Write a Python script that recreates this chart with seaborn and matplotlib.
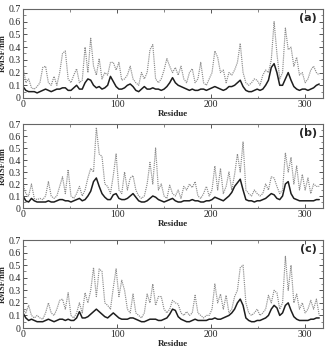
import numpy as np
import pandas as pd
import matplotlib
matplotlib.use("Agg")
import matplotlib.pyplot as plt
import seaborn as sns
from matplotlib.ticker import MultipleLocator

# Sampled every 3 residues, from residue 0
dotted_a = [0.25,0.12,0.15,0.08,0.07,0.09,0.12,0.24,0.25,0.12,0.10,0.17,0.10,0.20,0.35,0.37,0.15,0.12,0.18,0.23,
            0.12,0.14,0.40,0.20,0.47,0.25,0.18,0.31,0.15,0.20,0.18,0.28,0.28,0.22,0.28,0.14,0.15,0.18,0.25,0.15,
            0.12,0.10,0.20,0.15,0.20,0.38,0.42,0.15,0.12,0.15,0.22,0.31,0.25,0.20,0.24,0.18,0.25,0.15,0.12,0.20,
            0.23,0.12,0.15,0.28,0.12,0.10,0.15,0.20,0.37,0.32,0.20,0.22,0.12,0.20,0.18,0.22,0.28,0.43,0.20,0.12,
            0.10,0.12,0.15,0.14,0.10,0.18,0.22,0.20,0.30,0.60,0.35,0.15,0.20,0.55,0.38,0.40,0.25,0.32,0.18,0.20,
            0.12,0.15,0.22,0.25,0.20,0.18]
solid_a = [0.09,0.06,0.05,0.05,0.05,0.04,0.05,0.06,0.07,0.06,0.05,0.06,0.07,0.07,0.08,0.08,0.06,0.06,0.08,0.10,
           0.07,0.07,0.12,0.15,0.14,0.10,0.08,0.09,0.07,0.08,0.10,0.17,0.13,0.09,0.07,0.07,0.08,0.10,0.11,0.09,
           0.06,0.05,0.07,0.09,0.07,0.07,0.08,0.07,0.07,0.06,0.07,0.09,0.12,0.16,0.12,0.10,0.09,0.08,0.07,0.06,
           0.07,0.06,0.06,0.07,0.07,0.06,0.07,0.08,0.09,0.08,0.07,0.06,0.07,0.09,0.09,0.10,0.12,0.14,0.09,0.06,
           0.05,0.05,0.06,0.07,0.06,0.07,0.10,0.14,0.24,0.27,0.20,0.10,0.10,0.15,0.20,0.14,0.09,0.07,0.06,0.07,
           0.07,0.06,0.07,0.08,0.10,0.11]
dotted_b = [0.20,0.12,0.10,0.20,0.08,0.07,0.08,0.07,0.10,0.22,0.10,0.08,0.10,0.18,0.26,0.12,0.32,0.10,0.08,0.12,
            0.18,0.10,0.15,0.25,0.33,0.30,0.67,0.45,0.43,0.20,0.18,0.12,0.27,0.45,0.15,0.12,0.30,0.15,0.25,0.27,
            0.15,0.10,0.08,0.10,0.20,0.38,0.20,0.50,0.15,0.20,0.10,0.08,0.19,0.12,0.10,0.15,0.08,0.18,0.15,0.20,
            0.17,0.22,0.10,0.08,0.12,0.18,0.10,0.15,0.35,0.15,0.33,0.12,0.18,0.30,0.15,0.28,0.45,0.30,0.55,0.15,
            0.12,0.10,0.15,0.12,0.10,0.12,0.20,0.15,0.26,0.25,0.18,0.12,0.15,0.46,0.30,0.42,0.20,0.35,0.15,0.28,
            0.15,0.25,0.12,0.20,0.18,0.18]
solid_b = [0.10,0.06,0.05,0.08,0.06,0.05,0.05,0.05,0.05,0.06,0.05,0.05,0.06,0.07,0.07,0.06,0.06,0.05,0.06,0.07,
           0.08,0.06,0.07,0.10,0.14,0.22,0.25,0.18,0.12,0.09,0.07,0.07,0.11,0.12,0.08,0.07,0.07,0.08,0.10,0.12,
           0.09,0.06,0.05,0.05,0.06,0.08,0.10,0.09,0.07,0.06,0.05,0.06,0.07,0.08,0.06,0.05,0.05,0.06,0.06,0.06,
           0.07,0.06,0.06,0.05,0.05,0.06,0.06,0.07,0.09,0.08,0.07,0.06,0.08,0.10,0.13,0.18,0.21,0.24,0.15,0.07,
           0.06,0.06,0.05,0.06,0.06,0.07,0.08,0.10,0.12,0.11,0.08,0.07,0.10,0.20,0.22,0.12,0.08,0.07,0.06,0.06,
           0.06,0.06,0.06,0.06,0.07,0.07]
dotted_c = [0.15,0.12,0.18,0.10,0.08,0.10,0.08,0.07,0.12,0.20,0.12,0.10,0.15,0.22,0.23,0.15,0.28,0.10,0.08,0.12,
            0.20,0.12,0.28,0.20,0.30,0.48,0.25,0.47,0.45,0.20,0.18,0.15,0.32,0.47,0.25,0.38,0.30,0.15,0.12,0.27,
            0.12,0.10,0.08,0.12,0.27,0.20,0.35,0.18,0.25,0.25,0.15,0.12,0.15,0.22,0.20,0.19,0.12,0.10,0.13,0.10,
            0.12,0.26,0.12,0.10,0.08,0.10,0.10,0.15,0.35,0.20,0.27,0.15,0.26,0.12,0.15,0.25,0.30,0.48,0.50,0.20,
            0.12,0.10,0.12,0.15,0.10,0.12,0.15,0.26,0.20,0.30,0.28,0.15,0.20,0.57,0.30,0.50,0.20,0.27,0.15,0.20,
            0.12,0.15,0.22,0.15,0.23,0.10]
solid_c = [0.12,0.08,0.06,0.07,0.06,0.05,0.05,0.05,0.06,0.07,0.06,0.05,0.06,0.07,0.07,0.06,0.07,0.06,0.06,0.08,
           0.13,0.08,0.08,0.09,0.11,0.13,0.15,0.13,0.11,0.09,0.08,0.10,0.12,0.10,0.08,0.07,0.07,0.07,0.08,0.08,
           0.07,0.06,0.05,0.05,0.06,0.07,0.07,0.07,0.06,0.06,0.07,0.08,0.11,0.15,0.14,0.09,0.07,0.06,0.05,0.05,
           0.06,0.07,0.06,0.06,0.06,0.06,0.07,0.07,0.08,0.07,0.07,0.08,0.09,0.10,0.12,0.15,0.20,0.23,0.18,0.08,
           0.06,0.05,0.05,0.06,0.06,0.07,0.08,0.10,0.15,0.18,0.16,0.10,0.12,0.18,0.20,0.14,0.09,0.07,0.06,0.06,
           0.06,0.06,0.07,0.07,0.08,0.08]

panel_labels = ["(a)", "(b)", "(c)"]
x_label = "Residue"
y_label = "RMSF/nm"
x_ticks = [0, 100, 200, 300]
y_ticks = [0, 0.1, 0.2, 0.3, 0.4, 0.5, 0.6, 0.7]
y_ticklabels = ["0", "0.1", "0.2", "0.3", "0.4", "0.5", "0.6", "0.7"]

panels = [(dotted_a, solid_a), (dotted_b, solid_b), (dotted_c, solid_c)]

sns.set_theme(style="white")
plt.rcParams['font.family'] = ['Liberation Serif', 'DejaVu Serif']

fig = plt.figure(figsize=(3.26, 3.47), dpi=100)
rects = [
    [23/326, (347-98)/347, 300/326, 89/347],
    [23/326, (347-208)/347, 300/326, 84/347],
    [23/326, (347-328)/347, 300/326, 88/347],
]

for (dotted, solid), rect, lab in zip(panels, rects, panel_labels):
    ax = fig.add_axes(rect)
    n = len(dotted)
    res = np.arange(n) * 3
    df = pd.DataFrame({"res": res, "dotted": dotted, "solid": solid[:n]})
    sns.lineplot(data=df, x="res", y="dotted", ax=ax, color="#8c8c8c",
                 linestyle=(0, (1, 0.8)), linewidth=0.85)
    sns.lineplot(data=df, x="res", y="solid", ax=ax, color="#1e1e1e",
                 linewidth=1.1)
    ax.set_xlim(0, 319)
    ax.set_ylim(0, 0.7)
    ax.set_xticks(x_ticks)
    ax.set_xticklabels([str(t) for t in x_ticks], fontsize=7)
    ax.set_yticks(y_ticks)
    ax.set_yticklabels(y_ticklabels, fontsize=7)
    ax.xaxis.set_minor_locator(MultipleLocator(50))
    ax.yaxis.set_minor_locator(MultipleLocator(0.05))
    ax.tick_params(which="both", direction="in", top=True, right=True,
                   bottom=True, left=True, color="#555555")
    ax.tick_params(which="major", length=3, width=0.7, pad=1.5)
    ax.tick_params(which="minor", length=1.8, width=0.5)
    for sp in ax.spines.values():
        sp.set_color("#666666")
        sp.set_linewidth(0.8)
    ax.set_xlabel(x_label, fontsize=6.5, fontweight="bold", labelpad=1)
    ax.set_ylabel(y_label, fontsize=6, fontweight="bold", labelpad=1)
    ax.text(0.98, 0.95, lab, transform=ax.transAxes, ha="right", va="top",
            fontsize=8, fontweight="bold", family=["DejaVu Sans"])

fig.savefig("out.png", dpi=100)
